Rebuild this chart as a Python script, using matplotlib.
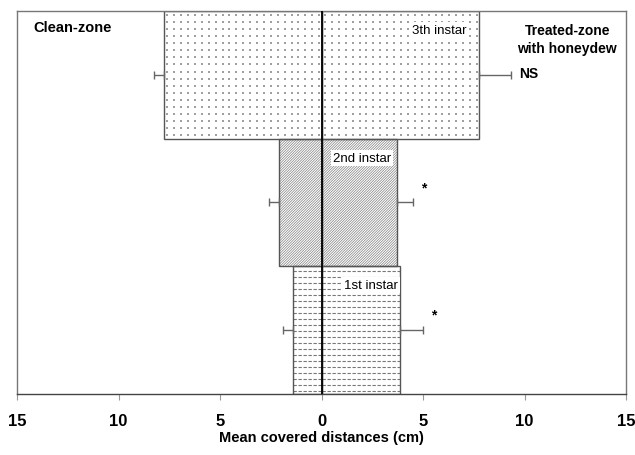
import matplotlib
matplotlib.use("Agg")
import matplotlib.pyplot as plt
import numpy as np

plt.rcParams['font.family'] = ['Liberation Sans', 'DejaVu Sans']
plt.rcParams['hatch.linewidth'] = 0.5

# data, bottom to top
instars = ['1st instar', '2nd instar', '3th instar']
clean_mean = [1.42, 2.08, 7.77]
clean_se = [0.49, 0.49, 0.47]
treated_mean = [3.87, 3.70, 7.77]
treated_se = [1.11, 0.82, 1.55]
signif = ['*', '*', 'NS']
ticks = [-15, -10, -5, 0, 5, 10, 15]
tick_labels = ['15', '10', '5', '0', '5', '10', '15']

hatches = ['dash', '/' * 13, 'dot']
hatch_cols = ['#777777', '#808080', '#a0a0a0']
edge = '#555555'

fig = plt.figure(figsize=(6.35, 4.56), dpi=100)
ax = fig.add_axes([0.027, 0.134, 0.959, 0.840])
y = np.arange(len(instars))

for i in range(len(instars)):
    for val in (-clean_mean[i], treated_mean[i]):
        h = hatches[i] if hatches[i] not in ('dash', 'dot') else None
        b = ax.barh(y[i], val, height=1.0, color='white', edgecolor=hatch_cols[i],
                    linewidth=0, hatch=h, zorder=1)
        x0, x1 = sorted([0, val])
        if hatches[i] == 'dash':
            for yy in np.arange(y[i] - 0.48, y[i] + 0.5, 0.047):
                ln, = ax.plot([x0, x1], [yy, yy], color=hatch_cols[i], lw=0.8,
                              dashes=(3, 1.5), zorder=1.5)
        elif hatches[i] == 'dot':
            gx, gy = np.meshgrid(np.arange(x0 + 0.17, x1, 0.34),
                                 np.arange(y[i] - 0.47, y[i] + 0.5, 0.055))
            ax.scatter(gx.ravel(), gy.ravel(), s=0.7, color=hatch_cols[i], marker='s',
                       linewidths=0, zorder=1.5)
        ax.barh(y[i], val, height=1.0, fill=False, edgecolor=edge, linewidth=1.0, zorder=2)

# one-sided error bars
ax.errorbar([-m for m in clean_mean], y, xerr=[clean_se, np.zeros(3)], fmt='none',
            ecolor='#666666', elinewidth=1, capsize=3, capthick=1, zorder=3)
ax.errorbar(treated_mean, y, xerr=[np.zeros(3), treated_se], fmt='none',
            ecolor='#666666', elinewidth=1, capsize=3, capthick=1, zorder=3)

ax.axvline(0, color='black', lw=1.3, zorder=4)

# instar labels inside bars
lab_x = [2.45, 2.0, 5.8]
sig_dy = [0.12, 0.12, 0.01]
for i in range(len(instars)):
    ax.text(lab_x[i], y[i] + 0.35, instars[i], fontsize=9.5, ha='center', va='center',
            bbox=dict(facecolor='white', edgecolor='none', pad=1.5), zorder=5)
    ax.text(treated_mean[i] + treated_se[i] + 0.4, y[i] + sig_dy[i], signif[i], fontsize=10,
            fontweight='bold', ha='left', va='center', zorder=5)

ax.text(-14.2, 2.37, 'Clean-zone', fontsize=10.5, fontweight='bold', ha='left', va='center')
ax.text(12.1, 2.28, 'Treated-zone\nwith honeydew', fontsize=10, fontweight='bold',
        ha='center', va='center', linespacing=1.3)

ax.set_xlim(-15, 15)
ax.set_ylim(-0.5, 2.5)
ax.set_xticks(ticks)
ax.set_xticklabels(tick_labels, fontsize=12, fontweight='bold')
ax.set_yticks([])
ax.tick_params(axis='x', direction='out', length=4, color='#999999', pad=10)
for s in ax.spines.values():
    s.set_color('#777777')
    s.set_linewidth(1.0)
ax.spines['bottom'].set_color('#444444')
ax.set_xlabel('Mean covered distances (cm)', fontsize=10.5, fontweight='bold', labelpad=1)

fig.savefig('out.png', dpi=100)
